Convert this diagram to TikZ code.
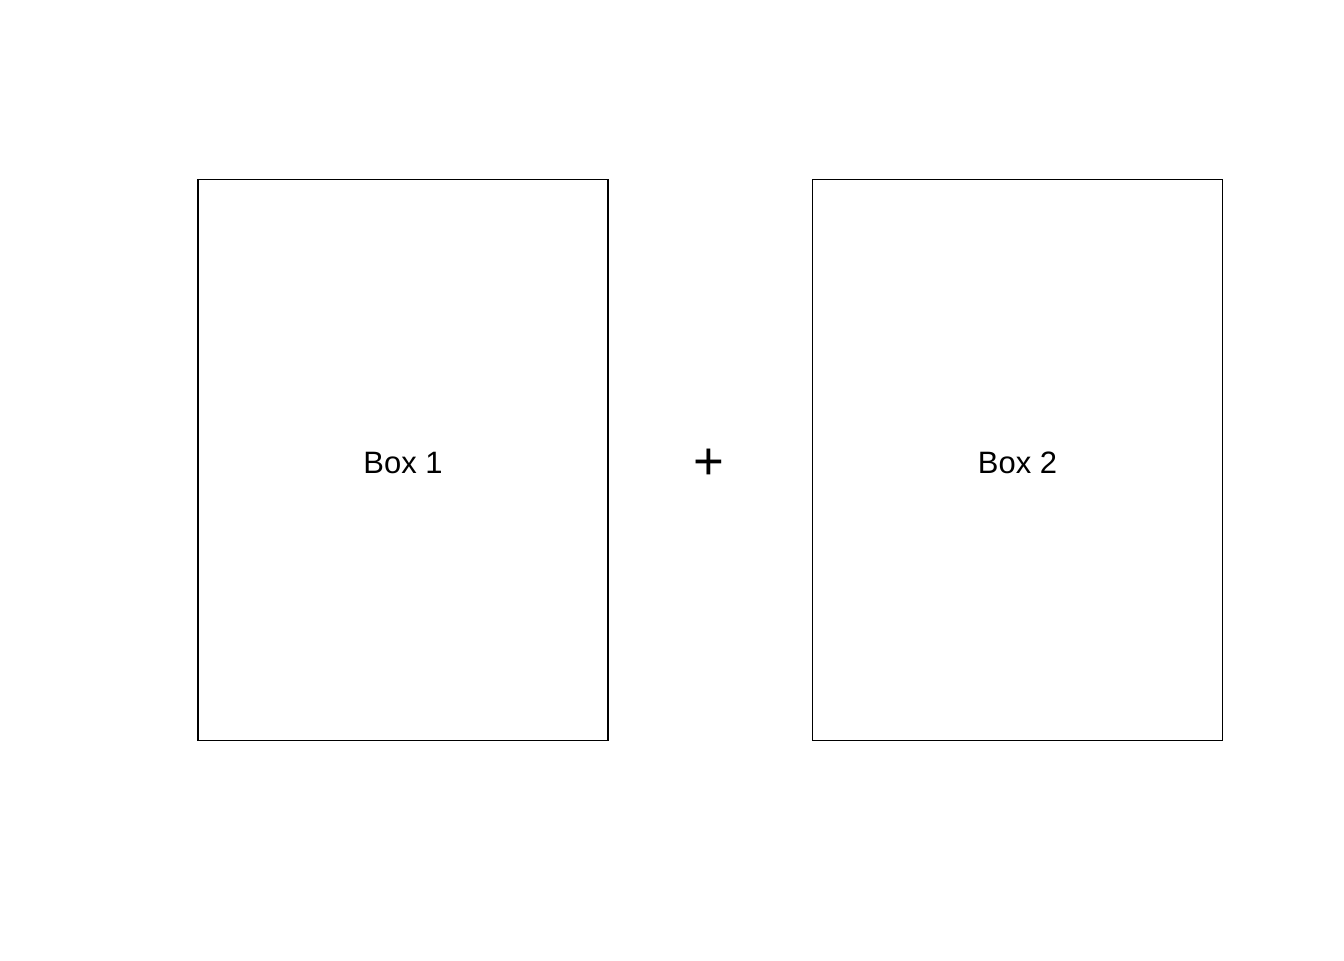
\documentclass[tikz,border=0pt]{standalone}
\usepackage{fontspec}
\setmainfont{Liberation Sans}
\usepackage{tikz}

\tikzset{box/.style={draw, line width=0.55pt, minimum width=4.1cm, minimum height=5.61cm, inner sep=0pt, text height=7.6pt, text depth=0pt, font=\fontsize{8.8}{10}\selectfont}}

\begin{document}
\begin{tikzpicture}
\useasboundingbox (0,0) rectangle (13.44,9.6);
\node [box] (box1) at (4.03,5.0) {Box 1};
\node [box] (box2) at (10.175,5.0) {Box 2};
\node [font=\fontsize{15}{18}\selectfont] (plus) at (7.09,4.96) {+};
\end{tikzpicture}
\end{document}
